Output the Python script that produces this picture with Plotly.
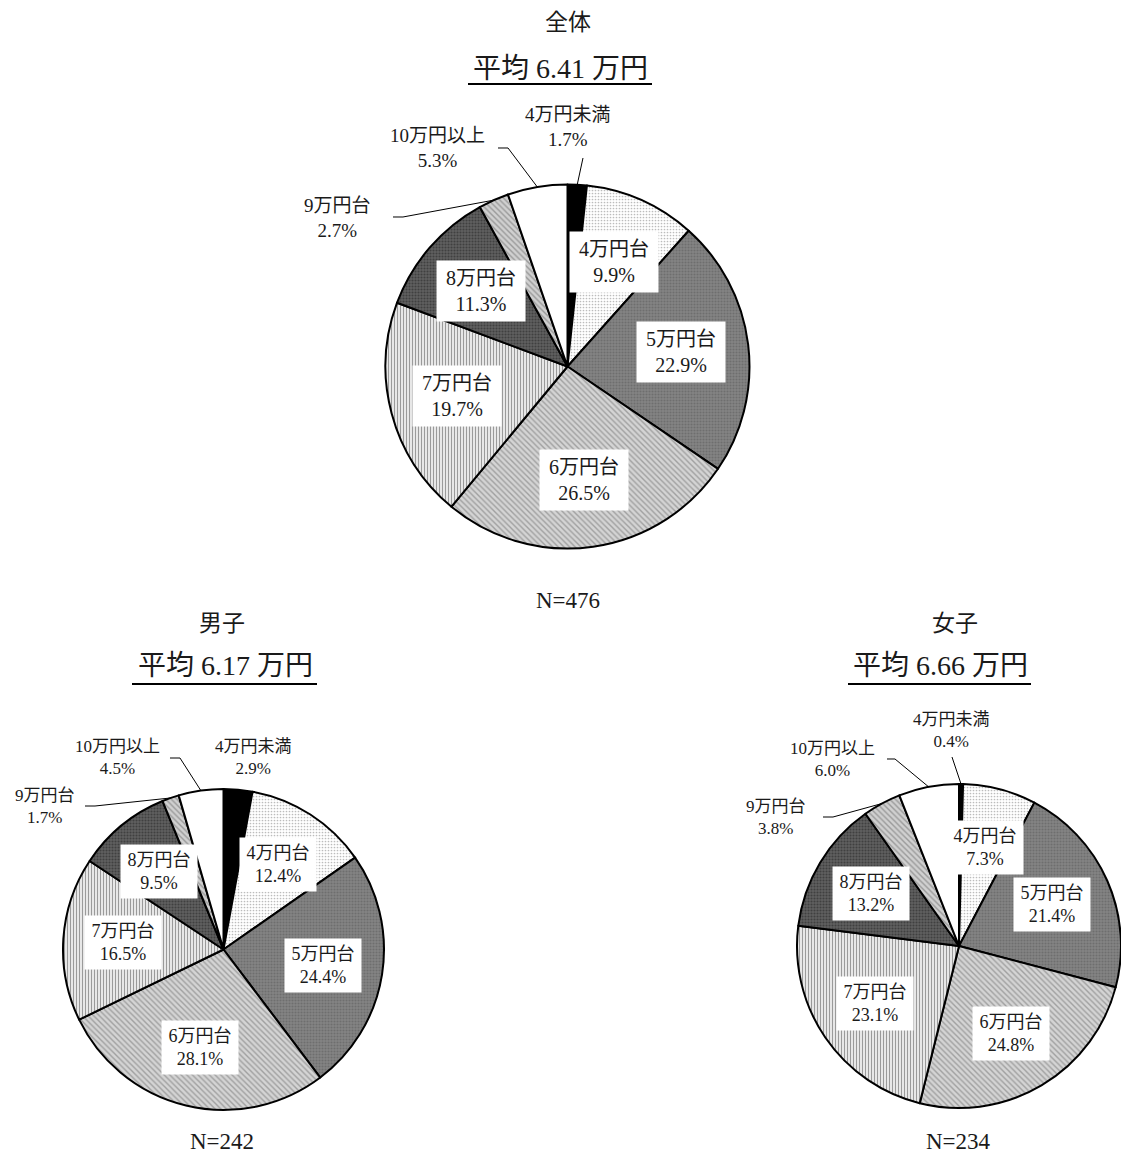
import math
import plotly.graph_objects as go

W, H = 1121, 1153
FONT = "Liberation Serif, Noto Sans CJK JP"

categories = ["4万円未満", "4万円台", "5万円台", "6万円台", "7万円台", "8万円台", "9万円台", "10万円以上"]
total_pct = [1.7, 9.9, 22.9, 26.5, 19.7, 11.3, 2.7, 5.3]
boys_pct = [2.9, 12.4, 24.4, 28.1, 16.5, 9.5, 1.7, 4.5]
girls_pct = [0.4, 7.3, 21.4, 24.8, 23.1, 13.2, 3.8, 6.0]
group_names = ["全体", "男子", "女子"]
group_means = [6.41, 6.17, 6.66]
group_n = [476, 242, 234]

# slice fills (black/white print look)
shapes_ = ["", ".", ".", "\\", "|", ".", "\\", ""]
bg = ["#000000", "#ffffff", "#848484", "#d4d4d4", "#f0f0f0", "#606060", "#d0d0d0", "#ffffff"]
fg = ["#000000", "#bcbcbc", "#6e6e6e", "#a0a0a0", "#9a9a9a", "#404040", "#9a9a9a", "#ffffff"]
psize = [3, 3, 3, 4, 3, 3, 4, 3]
psolid = [0.3, 0.25, 0.4, 0.35, 0.4, 0.4, 0.35, 0.3]

INSIDE = [1, 2, 3, 4, 5]
OUTSIDE = [0, 6, 7]

# pixel layout of each pie: centre, radius, font, title rows, outside labels
pies = [
    dict(cx=567.5, cy=366.5, r=182, fs=20, name_y=22, mean_y=68, ul=(468, 652, 84), n_y=600,
         box=(80, 52, 4),
         out={0: ((568, 127), [(583, 158)]),
              7: ((437, 148), [(498, 148), (508, 148)]),
              6: ((337, 218), [(393, 217), (403, 217)])}),
    dict(cx=223.5, cy=949.5, r=160.5, fs=18, name_y=623, mean_y=665, ul=(132, 317, 684), n_y=1141,
         box=(70, 47, 3),
         out={0: ((253, 757), None),
              7: ((117, 757), [(170, 758), (180, 758)]),
              6: ((45, 806), [(85, 806), (95, 806)])}),
    dict(cx=959, cy=946, r=162, fs=18, name_y=623, mean_y=665, ul=(848, 1031, 684), n_y=1141,
         box=(70, 47, 3),
         out={0: ((951, 730), [(952, 757)]),
              7: ((832, 759), [(887, 759), (895, 759)]),
              6: ((776, 817), [(823, 817), (833, 817)])}),
]
title_x = [568, 222, 955]
mean_x = [560, 225, 940]
n_x = [568, 222, 958]


def px(x, y):
    return x / W, 1 - y / H


def label(x, y, text, size, **kw):
    xp, yp = px(x, y)
    return dict(x=xp, y=yp, xref="paper", yref="paper", xanchor="center", yanchor="middle",
                showarrow=False, text=text, font=dict(family=FONT, size=size, color="#1a1a1a"), **kw)


fig = go.Figure()
annotations = []
shapes = []

for k, vals in enumerate([total_pct, boys_pct, girls_pct]):
    p = pies[k]
    cx, cy, r = p["cx"], p["cy"], p["r"]
    fig.add_trace(go.Pie(
        labels=categories, values=vals, sort=False, direction="clockwise", rotation=0,
        textinfo="none", hoverinfo="label+percent", showlegend=False,
        domain=dict(x=[(cx - r) / W, min(1, (cx + r) / W)], y=[1 - (cy + r) / H, 1 - (cy - r) / H]),
        marker=dict(colors=bg, line=dict(color="#000000", width=2),
                    pattern=dict(shape=shapes_, bgcolor=bg, fgcolor=fg, size=psize, solidity=psolid)),
    ))

    total = sum(vals)
    cum = 0
    mids = []
    for v in vals:
        mids.append((cum + v / 2) / total * 2 * math.pi)
        cum += v

    fs = p["fs"]
    bw, bh, bp = p["box"]
    for i in INSIDE:
        a = mids[i]
        annotations.append(label(cx + 0.63 * r * math.sin(a), cy - 0.63 * r * math.cos(a),
                                 f"{categories[i]}<br>{vals[i]:.1f}%", fs,
                                 bgcolor="#ffffff", width=bw, height=bh, borderpad=bp))

    for i in OUTSIDE:
        (lx, ly), line = p["out"][i]
        annotations.append(label(lx, ly, f"{categories[i]}<br>{vals[i]:.1f}%", fs - 1))
        if line:
            a = mids[i]
            pts = line + [(cx + r * math.sin(a), cy - r * math.cos(a))]
            path = "M " + " L ".join(f"{px(u, v)[0]:.5f},{px(u, v)[1]:.5f}" for u, v in pts)
            shapes.append(dict(type="path", path=path, xref="paper", yref="paper",
                               line=dict(color="#000000", width=1)))

    # titles
    annotations.append(label(title_x[k], p["name_y"], group_names[k], 23))
    annotations.append(label(mean_x[k], p["mean_y"], f"平均 {group_means[k]:.2f} 万円", 28))
    x0, x1, uy = p["ul"]
    shapes.append(dict(type="line", xref="paper", yref="paper",
                       x0=x0 / W, x1=x1 / W, y0=1 - uy / H, y1=1 - uy / H,
                       line=dict(color="#000000", width=2)))
    annotations.append(label(n_x[k], p["n_y"], f"N={group_n[k]}", 23))

fig.update_layout(
    width=W, height=H, margin=dict(l=0, r=0, t=0, b=0),
    paper_bgcolor="#ffffff", plot_bgcolor="#ffffff",
    annotations=annotations, shapes=shapes,
)
fig.write_html("out.html", config={"displayModeBar": False},
               post_script="document.body.style.margin='0';")
